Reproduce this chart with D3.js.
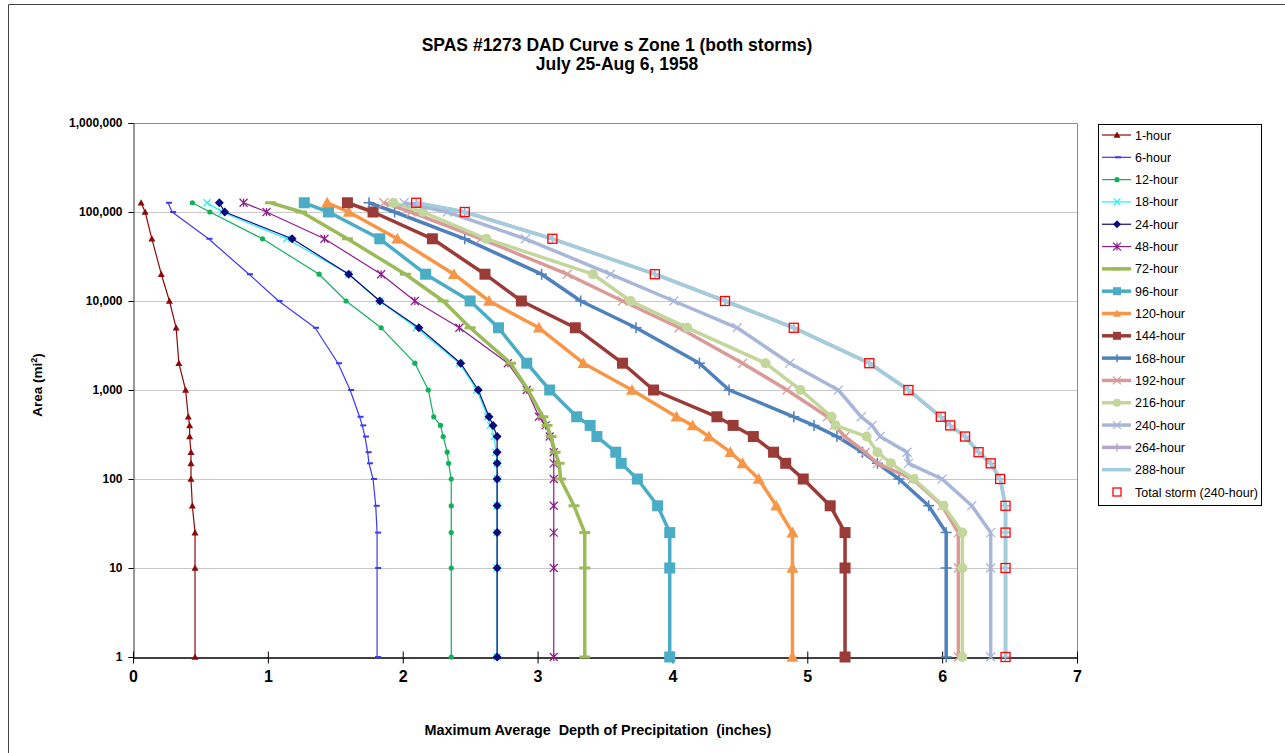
<!DOCTYPE html>
<html>
<head>
<meta charset="utf-8">
<script src="https://cdn.jsdelivr.net/npm/d3@7"></script>
<style>
    body { margin: 0; background: #fff; }
    text { font-family: Arial, "Liberation Sans", sans-serif; }
</style>
</head>
<body>
<div id="chart"></div>
<script>
// area sizes (sq mi), smallest to largest
const areas = [1, 10, 25, 50, 100, 150, 200, 300, 400, 500, 1000, 2000, 5000, 10000, 20000, 50000, 100000, 127000];

// max average depth (inches) per duration, same order as areas
const h1   = [0.46, 0.46, 0.46, 0.44, 0.43, 0.43, 0.43, 0.42, 0.42, 0.41, 0.39, 0.34, 0.32, 0.27, 0.21, 0.14, 0.09, 0.06];
const h6   = [1.81, 1.81, 1.81, 1.80, 1.78, 1.75, 1.74, 1.72, 1.70, 1.68, 1.61, 1.52, 1.35, 1.08, 0.86, 0.56, 0.29, 0.26];
const h12  = [2.36, 2.36, 2.36, 2.36, 2.36, 2.34, 2.33, 2.30, 2.28, 2.23, 2.19, 2.09, 1.84, 1.58, 1.38, 0.96, 0.57, 0.44];
const h18  = [2.70, 2.70, 2.70, 2.70, 2.70, 2.70, 2.69, 2.68, 2.65, 2.63, 2.55, 2.42, 2.10, 1.83, 1.60, 1.14, 0.66, 0.55];
const h24  = [2.70, 2.70, 2.70, 2.70, 2.70, 2.70, 2.70, 2.70, 2.67, 2.64, 2.56, 2.43, 2.12, 1.83, 1.60, 1.18, 0.68, 0.64];
const h48  = [3.12, 3.12, 3.12, 3.12, 3.12, 3.12, 3.12, 3.09, 3.06, 3.01, 2.92, 2.78, 2.42, 2.09, 1.84, 1.42, 0.99, 0.82];
const h72  = [3.35, 3.35, 3.35, 3.27, 3.17, 3.16, 3.13, 3.10, 3.07, 3.04, 2.93, 2.80, 2.50, 2.30, 2.02, 1.59, 1.25, 1.02];
const h96  = [3.98, 3.98, 3.98, 3.89, 3.74, 3.62, 3.58, 3.44, 3.39, 3.29, 3.09, 2.92, 2.71, 2.50, 2.17, 1.83, 1.45, 1.27];
const h120 = [4.89, 4.89, 4.89, 4.77, 4.64, 4.52, 4.43, 4.27, 4.15, 4.03, 3.70, 3.34, 3.01, 2.64, 2.38, 1.96, 1.60, 1.44];
const h144 = [5.28, 5.28, 5.28, 5.17, 4.97, 4.84, 4.75, 4.60, 4.45, 4.33, 3.86, 3.63, 3.28, 2.88, 2.61, 2.22, 1.78, 1.59];
const h168 = [6.03, 6.03, 6.03, 5.90, 5.68, 5.52, 5.41, 5.22, 5.05, 4.90, 4.42, 4.20, 3.73, 3.32, 3.03, 2.46, 1.94, 1.75];
const h192 = [6.12, 6.12, 6.12, 6.00, 5.78, 5.52, 5.43, 5.28, 5.20, 5.15, 4.85, 4.52, 4.05, 3.63, 3.22, 2.58, 2.06, 1.86];
const h216 = [6.15, 6.15, 6.15, 6.01, 5.79, 5.62, 5.52, 5.44, 5.21, 5.18, 4.95, 4.69, 4.11, 3.69, 3.41, 2.62, 2.15, 1.93];
const h240 = [6.36, 6.36, 6.36, 6.22, 6.00, 5.75, 5.74, 5.54, 5.48, 5.40, 5.23, 4.87, 4.48, 4.01, 3.54, 2.91, 2.33, 2.01];
const h264 = [6.47, 6.47, 6.47, 6.47, 6.43, 6.36, 6.27, 6.17, 6.06, 5.99, 5.75, 5.46, 4.90, 4.39, 3.87, 3.11, 2.46, 2.10];
const h288 = [6.47, 6.47, 6.47, 6.47, 6.43, 6.36, 6.27, 6.17, 6.06, 5.99, 5.75, 5.46, 4.90, 4.39, 3.87, 3.11, 2.46, 2.10];
const totalStorm = [6.47, 6.47, 6.47, 6.47, 6.43, 6.36, 6.27, 6.17, 6.06, 5.99, 5.75, 5.46, 4.90, 4.39, 3.87, 3.11, 2.46, 2.10];

const seriesNames = ['1-hour', '6-hour', '12-hour', '18-hour', '24-hour', '48-hour', '72-hour', '96-hour',
    '120-hour', '144-hour', '168-hour', '192-hour', '216-hour', '240-hour', '264-hour', '288-hour', 'Total storm (240-hour)'];
const seriesValues = [h1, h6, h12, h18, h24, h48, h72, h96, h120, h144, h168, h192, h216, h240, h264, h288, totalStorm];

const xTicks = [0, 1, 2, 3, 4, 5, 6, 7];
const yTicks = [1, 10, 100, 1000, 10000, 100000, 1000000];

// look of each series: colour, line width, marker
const styles = [
    { color: '#8B0A0A', width: 1.2, marker: 'triangle', size: 3.5 },
    { color: '#3A3AF5', width: 1.2, marker: 'dash', size: 3 },
    { color: '#12B05A', width: 1.2, marker: 'circle', size: 2.6 },
    { color: '#22F0F0', width: 1.2, marker: 'x', size: 3.5 },
    { color: '#0A0A80', width: 1.2, marker: 'diamond', size: 4.5 },
    { color: '#8E1C8E', width: 1.2, marker: 'star', size: 4 },
    { color: '#9BBB59', width: 3.5, marker: 'bar', size: 5.5 },
    { color: '#4BACC6', width: 3.5, marker: 'square', size: 5.5 },
    { color: '#F79646', width: 3.5, marker: 'triangle', size: 6 },
    { color: '#9B3B38', width: 3.5, marker: 'square', size: 5.5 },
    { color: '#4F81BD', width: 3.5, marker: 'plus', size: 5.5 },
    { color: '#D99A98', width: 3.5, marker: 'x', size: 4.5 },
    { color: '#C3D69B', width: 3.5, marker: 'circle', size: 5 },
    { color: '#A8B6D8', width: 3.5, marker: 'x', size: 4.5 },
    { color: '#B6A6CB', width: 3.5, marker: 'plus', size: 4 },
    { color: '#A3CDDB', width: 3.5, marker: 'none', size: 0 },
    { color: '#FF0000', width: 0, marker: 'hollowSquare', size: 4.5 }
];

class DadChart {
    constructor(series, config) {
        this.series = series;
        this.config = {
            parentElement: config?.parentElement || 'body',
            width: config?.width || 1285,
            height: config?.height || 753,
            plot: config?.plot || { left: 133, top: 123, right: 1077, bottom: 657 }
        };
        this.initViz();
    }

    initViz() {
        const that = this;
        const p = that.config.plot;

        that.svg = d3.select(that.config.parentElement)
            .append('svg')
            .attr('width', that.config.width)
            .attr('height', that.config.height);

        that.svg.append('rect')
            .attr('width', that.config.width)
            .attr('height', that.config.height)
            .attr('fill', '#fff');

        // outer frame, only top and left edges show
        that.svg.append('path')
            .attr('d', `M8.5,${that.config.height}V4.5H${that.config.width}`)
            .attr('fill', 'none')
            .attr('stroke', '#444')
            .attr('stroke-width', 1);

        that.xScale = d3.scaleLinear().domain([0, 7]).range([p.left, p.right]);
        that.yScale = d3.scaleLog().domain([1, 1000000]).range([p.bottom, p.top]);

        that.renderViz();
    }

    drawMarker(g, style) {
        const s = style.size;
        const c = style.color;
        switch (style.marker) {
            case 'triangle':
                g.append('path').attr('d', `M0,${-s}L${s},${s * 0.8}L${-s},${s * 0.8}Z`).attr('fill', c);
                break;
            case 'circle':
                g.append('circle').attr('r', s).attr('fill', c);
                break;
            case 'diamond':
                g.append('path').attr('d', `M0,${-s}L${s},0L0,${s}L${-s},0Z`).attr('fill', c);
                break;
            case 'square':
                g.append('rect').attr('x', -s).attr('y', -s).attr('width', 2 * s).attr('height', 2 * s).attr('fill', c);
                break;
            case 'hollowSquare':
                g.append('rect').attr('x', -s).attr('y', -s).attr('width', 2 * s).attr('height', 2 * s)
                    .attr('fill', 'none').attr('stroke', c).attr('stroke-width', 1.3);
                break;
            case 'dash':
                g.append('path').attr('d', `M${-s + 1},0H${s + 1}`).attr('stroke', c).attr('stroke-width', 2);
                break;
            case 'bar':
                g.append('path').attr('d', `M${-s},0H${s}`).attr('stroke', c).attr('stroke-width', 3);
                break;
            case 'x':
                g.append('path').attr('d', `M${-s},${-s}L${s},${s}M${-s},${s}L${s},${-s}`)
                    .attr('stroke', c).attr('stroke-width', 1.2);
                break;
            case 'plus':
                g.append('path').attr('d', `M${-s},0H${s}M0,${-s}V${s}`)
                    .attr('stroke', c).attr('stroke-width', 1.5);
                break;
            case 'star':
                g.append('path').attr('d', `M${-s},${-s}L${s},${s}M${-s},${s}L${s},${-s}M0,${-s}V${s}`)
                    .attr('stroke', c).attr('stroke-width', 1.2);
                break;
        }
    }

    renderViz() {
        const that = this;
        const p = that.config.plot;
        const x = that.xScale;
        const y = that.yScale;

        // title
        const title = that.svg.append('g')
            .attr('font-size', 17.5).attr('font-weight', 'bold').attr('text-anchor', 'middle');
        title.append('text').attr('x', 617).attr('y', 51).text('SPAS #1273 DAD Curve s Zone 1 (both storms)');
        title.append('text').attr('x', 617).attr('y', 70).text('July 25-Aug 6, 1958');

        // horizontal gridlines at each decade
        that.svg.append('g')
            .selectAll('line')
            .data(yTicks.slice(1))
            .join('line')
            .attr('x1', p.left).attr('x2', p.right)
            .attr('y1', d => Math.round(y(d)) + 0.5).attr('y2', d => Math.round(y(d)) + 0.5)
            .attr('stroke', '#c8c8c8').attr('stroke-width', 1);

        // plot frame top + right
        that.svg.append('path')
            .attr('d', `M${p.left},${p.top + 0.5}H${p.right + 0.5}V${p.bottom}`)
            .attr('fill', 'none').attr('stroke', '#8c8c8c').attr('stroke-width', 1);

        // y axis
        const yAxis = that.svg.append('g')
            .attr('transform', `translate(${p.left + 0.5},0)`)
            .call(d3.axisLeft(y).tickValues(yTicks).tickFormat(d3.format(',')).tickSize(5).tickPadding(6));
        yAxis.select('.domain').attr('stroke', '#333');
        yAxis.selectAll('text').attr('font-size', 12).attr('font-weight', 'bold').attr('fill', '#000')
            .style('font-family', 'Arial, "Liberation Sans", sans-serif');

        // x axis with ticks crossing the line
        const xAxis = that.svg.append('g')
            .attr('transform', `translate(0,${p.bottom + 0.5})`)
            .call(d3.axisBottom(x).tickValues(xTicks).tickFormat(d3.format('d')).tickSize(0).tickPadding(13));
        xAxis.select('.domain').attr('stroke', '#000').attr('stroke-width', 1.5);
        xAxis.selectAll('.tick').append('line')
            .attr('y1', -6).attr('y2', 6).attr('stroke', '#000').attr('stroke-width', 1);
        xAxis.selectAll('text').attr('font-size', 16).attr('font-weight', 'bold').attr('fill', '#000')
            .style('font-family', 'Arial, "Liberation Sans", sans-serif');

        // axis titles
        that.svg.append('text')
            .attr('x', 598).attr('y', 735)
            .attr('text-anchor', 'middle').attr('font-size', 14.4).attr('font-weight', 'bold')
            .style('white-space', 'pre')
            .text('Maximum Average  Depth of Precipitation  (inches)');

        const yTitle = that.svg.append('text')
            .attr('transform', 'translate(42,385) rotate(-90)')
            .attr('text-anchor', 'middle').attr('font-size', 13.5).attr('font-weight', 'bold');
        yTitle.append('tspan').text('Area (mi');
        yTitle.append('tspan').attr('font-size', 9).attr('dy', -5).text('2');
        yTitle.append('tspan').attr('dy', 5).text(')');

        // series lines, then markers
        const line = d3.line()
            .x(d => x(d.depth))
            .y(d => y(d.area));

        const seriesG = that.svg.append('g');
        that.series.forEach(s => {
            const g = seriesG.append('g');
            if (s.style.width > 0) {
                g.append('path')
                    .datum(s.points)
                    .attr('d', line)
                    .attr('fill', 'none')
                    .attr('stroke', s.style.color)
                    .attr('stroke-width', s.style.width)
                    .attr('stroke-linejoin', 'round');
            }
            if (s.style.marker !== 'none') {
                s.points.forEach(d => {
                    const m = g.append('g').attr('transform', `translate(${x(d.depth)},${y(d.area)})`);
                    that.drawMarker(m, s.style);
                });
            }
        });

        // legend
        const legend = that.svg.append('g');
        legend.append('rect')
            .attr('x', 1098.5).attr('y', 124.5).attr('width', 163).attr('height', 381)
            .attr('fill', '#fff').attr('stroke', '#000').attr('stroke-width', 1);

        const rowY = d3.scaleLinear().domain([0, that.series.length - 1]).range([135, 492]);
        that.series.forEach((s, i) => {
            const row = legend.append('g').attr('transform', `translate(0,${rowY(i)})`);
            if (s.style.width > 0) {
                row.append('line').attr('x1', 1102).attr('x2', 1131).attr('y1', 0).attr('y2', 0)
                    .attr('stroke', s.style.color).attr('stroke-width', s.style.width);
            }
            if (s.style.marker !== 'none') {
                const m = row.append('g').attr('transform', 'translate(1117,0)');
                that.drawMarker(m, Object.assign({}, s.style, { size: Math.min(s.style.size, 4) }));
            }
            row.append('text').attr('x', 1135).attr('y', 4.5).attr('font-size', 12.5).text(s.name);
        });
    }
}

const series = seriesNames.map((name, i) => ({
    name: name,
    style: styles[i],
    points: areas.map((a, j) => ({ area: a, depth: seriesValues[i][j] }))
}));

new DadChart(series, { parentElement: '#chart' });
</script>
</body>
</html>
